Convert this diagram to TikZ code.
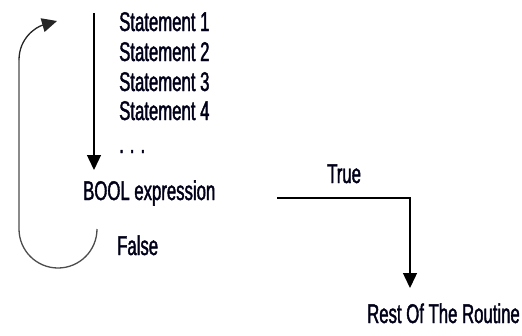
\documentclass[tikz,border=0pt]{standalone}
\usepackage{fontspec}
\setmainfont{Liberation Sans}[FakeStretch=0.62,FakeBold=1.5]
\usetikzlibrary{arrows.meta,positioning,calc}
\tikzset{
  txt/.style={inner sep=0pt,font=\fontsize{27}{32}\selectfont,text=black!90!blue},
  flow/.style={line width=1.4pt,black},
  flowarr/.style={flow,-{Triangle[length=15pt,width=14pt]}},
  loopline/.style={line width=1.3pt,black!70}
}
\begin{document}
\begin{tikzpicture}[x=1pt,y=-1pt]
  \useasboundingbox (0,0) rectangle (522,335);
  % statement block
  \node[txt,anchor=base west] (s1) at (119,31) {Statement 1};
  \node[txt,anchor=base west] (s2) at (119,61) {Statement 2};
  \node[txt,anchor=base west] (s3) at (119,91) {Statement 3};
  \node[txt,anchor=base west] (s4) at (119,120) {Statement 4};
  \node[txt,anchor=base west] (dots) at (119,153) {.\hspace{6pt}.\hspace{6pt}.};
  \node[txt,anchor=base west] (bool) at (83,200) {BOOL expression};
  \node[txt,anchor=base west] (false) at (117,255) {False};
  \node[txt,anchor=base west] (true) at (327,183) {True};
  \node[txt,anchor=base west] (rest) at (367,323) {Rest Of The Routine};
  % connectors
  \coordinate (top) at (94,13);
  \coordinate (boolin) at (94,170);
  \draw[flowarr] (top) -- (boolin);
  \coordinate (tstart) at (277,198);
  \coordinate (restin) at (410,288);
  \draw[flowarr] (tstart) -| (restin);
  % loop back
  \coordinate (fstart) at (97,229);
  \coordinate (loopin) at (57,21);
  \draw[loopline] (fstart) arc (0:180:39) -- (19,60);
  \draw[loopline,-{Triangle[length=15pt,width=14pt]},black!85] (19,60) .. controls (19,38) and (36,27) .. (loopin);
\end{tikzpicture}
\end{document}
